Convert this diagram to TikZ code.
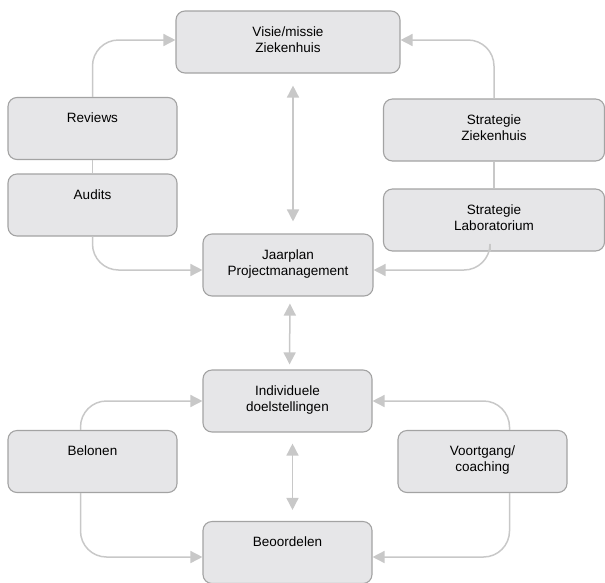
\documentclass[tikz,border=0pt]{standalone}
\usepackage{fontspec}
\setmainfont{Liberation Sans}
\usetikzlibrary{arrows.meta}
\definecolor{blokvul}{HTML}{E6E6E8}
\definecolor{bloklijn}{HTML}{A3A3A3}
\definecolor{pijlgrijs}{HTML}{C8C8C8}
\tikzstyle{blok} = [rectangle, rounded corners=9pt, minimum width=169pt, minimum height=62pt, draw=bloklijn, line width=1.1pt, fill=blokvul, inner sep=0pt]
\tikzstyle{breed} = [blok, minimum width=221pt]
\tikzstyle{tekst} = [anchor=north, inner sep=0pt, yshift=-16pt, align=center, font=\fontsize{13.5}{16}\selectfont]
\tikzstyle{lijn} = [draw=pijlgrijs, line width=1.5pt, rounded corners=26pt]
\tikzstyle{pijl} = [lijn, -{Triangle[length=12pt, width=12pt]}]
\tikzstyle{dubbel} = [lijn, {Triangle[length=12pt, width=12pt]}-{Triangle[length=12pt, width=12pt]}]
\begin{document}
\begin{tikzpicture}[x=1pt, y=-1pt]
\useasboundingbox (0,0) rectangle (605,582);

\node (visie) [blok, minimum width=224pt, label={[tekst]north:Visie/missie\\Ziekenhuis}] at (288,42) {};
\node (reviews) [blok, label={[tekst]north:Reviews}] at (92.5,128.5) {};
\node (audits) [blok, label={[tekst]north:Audits}] at (92.5,205) {};
\node (stratzh) [breed, label={[tekst]north:Strategie\\Ziekenhuis}] at (494,130) {};
\node (stratlab) [breed, label={[tekst]north:Strategie\\Laboratorium}] at (494,220) {};
\node (jaarplan) [blok, minimum width=170pt, label={[tekst]north:Jaarplan\\Projectmanagement}] at (288,265) {};
\node (individu) [blok, label={[tekst]north:Individuele\\doelstellingen}] at (287.5,401) {};
\node (belonen) [blok, label={[tekst]north:Belonen}] at (92.5,461.5) {};
\node (voortgang) [blok, label={[tekst]north:Voortgang/\\coaching}] at (482.5,461.5) {};
\node (beoordelen) [blok, label={[tekst]north:Beoordelen}] at (287.5,552.5) {};

\draw [lijn] (reviews) -- (audits);
\draw [lijn] (stratzh) -- (stratlab);
\draw [pijl] (reviews.north) |- ([yshift=2pt]visie.west);
\draw [pijl] (audits.south) |- ([yshift=-5pt]jaarplan.west);
\draw [pijl] (stratzh.north) |- ([yshift=2pt]visie.east);
\draw [pijl] ([xshift=-4pt]stratlab.south) |- ([yshift=-5pt]jaarplan.east);
\draw [dubbel, shorten <=12pt, shorten >=12pt] ([xshift=5pt]visie.south) -- ([xshift=5pt]jaarplan.north);
\draw [dubbel, shorten <=7pt, shorten >=5pt] ([xshift=2pt]jaarplan.south) -- ([xshift=2pt]individu.north);
\draw [dubbel, shorten <=11pt, shorten >=11pt] ([xshift=5pt]individu.south) -- ([xshift=5pt]beoordelen.north);
\draw [pijl] ([xshift=-12pt]belonen.north) |- (individu.west);
\draw [pijl] ([xshift=-12pt]belonen.south) |- ([yshift=-4.5pt]beoordelen.west);
\draw [pijl] ([xshift=27pt]voortgang.north) |- (individu.east);
\draw [pijl] ([xshift=27pt]voortgang.south) |- ([yshift=-4.5pt]beoordelen.east);

\end{tikzpicture}
\end{document}
